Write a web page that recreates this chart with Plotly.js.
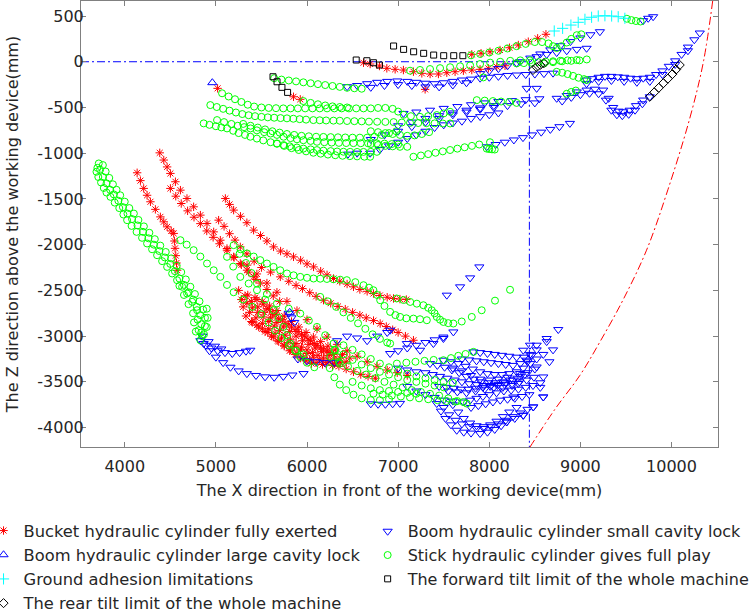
<!DOCTYPE html>
<html>
<head>
<meta charset="utf-8">
<script src="https://cdn.plot.ly/plotly-3.0.1.min.js"></script>
<style>html,body{margin:0;padding:0;background:#fff;}#chart{width:751px;height:612px;}</style>
</head>
<body>
<div id="chart"></div>
<script>
// ---------------- data (x mm, z mm) ----------------
const seriesNames = [
  'Bucket hydraulic cylinder fully exerted',
  'Boom hydraulic cylinder small cavity lock',
  'Boom hydraulic cylinder large cavity lock',
  'Stick hydraulic cylinder gives full play',
  'Ground adhesion limitations',
  'The forward tilt limit of the whole machine',
  'The rear tilt limit of the whole machine'
];

const xTickVals = [4000, 5000, 6000, 7000, 8000, 9000, 10000];
const xTickText = ['4000', '5000', '6000', '7000', '8000', '9000', '10000'];
const yTickVals = [-4000, -3500, -3000, -2500, -2000, -1500, -1000, -500, 0, 500];
const yTickText = ['-4000', '-3500', '-3000', '-2500', '-2000', '-1500', '-1000', '-500', '0', '500'];

// Bucket hydraulic cylinder fully exerted (red *)
const bucketPts = [
 [5019,-291],[5852,-383],[5926,-411],[7296,-302],
 [6620,-11],[6693,-25],[6795,-47],[6876,-72],[6967,-83],[7058,-91],[7168,-109],[7260,-127],[7351,-134],[7442,-134],[7534,-120],[7625,-109],[7716,-98],[7808,-91],[7899,-83],[7990,-72],[8082,-55],[8173,-44],
 [7808,81],[7910,92],[8008,109],[8118,128],[8222,153],[8319,183],[8428,219],[8531,256],[8622,300],
 [4136,-1214],[4172,-1300],[4208,-1385],[4245,-1460],[4282,-1531],[4336,-1614],[4391,-1696],[4428,-1750],[4465,-1805],[4510,-1850],[4537,-1877],[4545,-1960],[4552,-2040],[4560,-2120],[4568,-2200],[4575,-2280],
 [4384,-996],[4428,-1075],[4465,-1150],[4501,-1221],[4556,-1312],[4611,-1404],[4683,-1495],[4756,-1586],[4830,-1677],[4903,-1768],[4976,-1860],[5049,-1951],[5122,-2042],[5195,-2133],[5268,-2206],[5342,-2279],[5415,-2350],[5490,-2420],[5560,-2490],[5630,-2560],[5700,-2620],
 [4501,-1385],[4560,-1470],[4620,-1550],[4690,-1630],[4760,-1700],[4830,-1770],[4900,-1850],[4970,-1920],[5040,-1990],[5122,-2060],[5200,-2140],[5280,-2220],[5360,-2300],[5440,-2380],
 [5030,-1732],[5090,-1800],[5150,-1880],[5210,-1950],[5268,-2024],[5340,-2100],[5420,-2180],[5500,-2250],[5600,-2300],[5707,-2352],[5800,-2400],[5880,-2445],[5950,-2480],[6030,-2525],[6100,-2565],[6181,-2607],[6260,-2640],[6340,-2675],[6420,-2705],[6500,-2740],[6580,-2770],[6650,-2800],[6730,-2830],[6803,-2862],[6870,-2895],[6940,-2930],[7000,-2960],[7080,-3000],[7168,-3045],
 [5104,-1495],[5150,-1560],[5195,-1622],[5270,-1690],[5340,-1760],[5414,-1841],[5490,-1900],[5560,-1960],[5633,-2024],[5710,-2070],[5780,-2100],[5852,-2133],[5930,-2170],[6000,-2210],[6072,-2243],[6150,-2290],[6220,-2330],[6291,-2370],[6360,-2400],[6440,-2430],[6510,-2461],[6580,-2490],[6660,-2510],[6729,-2534],[6800,-2555],[6880,-2575],[6949,-2588],[7020,-2595],[7090,-2600],
 [5342,-2224],[5450,-2320],[5560,-2420],[5670,-2520],[5780,-2620],[5890,-2720],[6000,-2820],[6110,-2920],[6220,-3010],[6330,-3090],[6440,-3160],[6550,-3220],[6660,-3280],[6770,-3330],[6880,-3370],[6990,-3400],[7100,-3430],
 [5250,-2500],[5320,-2560],[5390,-2620],[5460,-2680],[5530,-2740],[5600,-2800],[5670,-2850],[5740,-2900],[5810,-2950],[5880,-3000],[5950,-3050],[6020,-3090],[6090,-3130],[6160,-3170],[6230,-3210],[6300,-3250],[6370,-3290],
 [5300,-2680],[5370,-2740],[5440,-2800],[5510,-2860],[5580,-2920],[5650,-2970],[5720,-3020],[5790,-3070],[5860,-3110],[5930,-3150],[6000,-3190],[6070,-3230],[6140,-3260],[6210,-3290],[6280,-3320],
 [5350,-2550],[5430,-2580],[5510,-2620],[5590,-2670],[5670,-2720],[5750,-2780],[5830,-2840],[5910,-2900],[5990,-2960],[6070,-3010],[6150,-3060],[6230,-3110],[6310,-3150],[6390,-3200],[6470,-3240],
 [5400,-2850],[5470,-2900],[5540,-2950],[5610,-3000],[5680,-3050],[5750,-3100],[5820,-3150],[5890,-3190],[5960,-3230],[6030,-3260],[6100,-3290],[6170,-3310],
 [5280,-2600],[5340,-2640],[5400,-2690],[5460,-2740],[5520,-2790],[5580,-2840],[5640,-2890],[5700,-2940],[5760,-2990],[5820,-3040],[5880,-3080],[5940,-3120],[6000,-3150],[6060,-3180],[6120,-3210],[6180,-3240],[6240,-3270],[6300,-3300],
 [5330,-2780],[5390,-2840],[5450,-2880],[5510,-2920],[5570,-2960],[5630,-3010],[5690,-3060],[5750,-3110],[5810,-3160],[5870,-3200],[5930,-3240],[5990,-3270],[6050,-3300],
 [5450,-2600],[5520,-2650],[5590,-2710],[5660,-2760],[5730,-2820],[5800,-2870],[5870,-2930],[5940,-2980],[6010,-3030],[6080,-3080],[6150,-3120],[6220,-3160],[6290,-3200],[6360,-3240],[6430,-3280],
 [5560,-2700],[5620,-2760],[5690,-2810],[5760,-2860],[5830,-2900],[5900,-2950],[5970,-3000],[6040,-3050],[6110,-3100],[6180,-3140],[6250,-3180],
 [6350,-3330],[6430,-3360],[6510,-3390],[6590,-3420],[6670,-3440],[6750,-3460]
];

// Boom hydraulic cylinder small cavity lock (blue down triangles)
const boomSmallPts = [
 [6440,-273],[6550,-260],[6660,-240],[6770,-225],[6880,-215],[6990,-210],[7100,-215],[7200,-225],[7300,-235],[7400,-240],[7500,-230],[7600,-215],[7700,-200],[7800,-190],[7900,-180],[8000,-170],[8100,-160],[8200,-150],[8300,-145],[8400,-140],[8500,-135],[8600,-130],[8700,-125],
 [6700,-280],[6850,-260],[7000,-250],[7150,-260],[7300,-275],[7450,-275],[7600,-255],[7750,-230],
 [9068,-200],[9130,-185],[9200,-170],[9270,-160],[9340,-160],[9410,-165],[9480,-170],[9550,-180],[9620,-185],[9690,-180],[9762,-170],[9830,-140],[9900,-100],[9970,-50],[10040,10],[10110,80],[10180,160],[10250,240],[10310,314],
 [9068,-240],[9200,-215],[9340,-205],[9480,-215],[9620,-225],[9762,-215],[9900,-140],[10040,-30],[10180,120],
 [8337,0],[8450,40],[8560,85],[8670,130],[8780,175],[8890,220],[9000,260],[9110,295],[9214,328],
 [8520,55],[8630,80],[8740,100],[8850,120],[8960,135],[9068,147],
 [7900,-130],[8000,-100],[8100,-75],[8200,-45],[8300,-15],
 [9689,449],[9744,475],[9798,492],
 [7059,-565],[7200,-550],[7350,-530],[7500,-510],[7650,-490],[7800,-470],[7950,-450],[8100,-435],[8250,-425],[8400,-415],[8550,-405],[8740,-400],[8850,-370],[8960,-330],[9068,-310],[9160,-300],[9250,-310],[9310,-400],[9360,-500],[9420,-540],[9470,-547],[9540,-530],[9610,-480],[9689,-419],[9762,-383],
 [8800,-430],[8900,-390],[9000,-360],[9100,-345],[9200,-350],[9280,-420],[9340,-530],[9400,-580],[9460,-590],[9530,-575],[9600,-530],[9680,-460],
 [8411,-291],[8520,-291],
 [6450,-1010],[6550,-1000],[6693,-1000],[6800,-960],[6900,-920],[7000,-880],[7100,-840],[7200,-800],[7300,-760],[7400,-720],[7500,-690],[7600,-670],
 [6700,-850],[6850,-800],[7000,-760],[7150,-710],[7300,-660],[7450,-620],[7600,-580],[7750,-550],[7900,-520],[8050,-500],[8200,-480],[8350,-460],[8500,-450],
 [7972,-930],[8070,-905],[8170,-880],[8270,-855],[8370,-830],[8470,-800],[8570,-770],[8670,-740],[8770,-710],[8885,-674],
 [7000,-700],[7150,-660],[7300,-620],[7450,-590],[7600,-560],[7750,-530],[7900,-505],[8050,-480],
 [7700,-650],[7800,-620],[7900,-600],[8000,-580],[8100,-560],
 [4830,-3050],[4890,-3100],[4950,-3130],[5020,-3160],[5100,-3180],[5180,-3190],[5260,-3180],[5330,-3165],[5378,-3154],[4850,-3000],[4920,-3060],[4990,-3110],[5060,-3140],
 [4866,-3081],[4930,-3160],[5000,-3230],[5080,-3290],[5160,-3340],[5250,-3380],[5340,-3410],[5440,-3430],[5540,-3445],[5640,-3450],[5740,-3440],[5840,-3425],[5962,-3409],
 [5800,-2750],[5830,-2800],[5860,-2850],[5900,-3250],[6000,-3270],[6100,-3280],[6200,-3290],[6300,-3290],[6330,-3050],[6440,-3000],[6550,-3020],[6660,-3050],[6770,-3000],[6880,-2960],
 [7534,-2552],[7680,-2461],[7790,-2363],[7891,-2243],
 [6912,-2935],[7096,-3081],[7241,-3154],[7387,-3081],[7497,-3026],
 [6912,-3190],[7000,-3160],[7100,-3130],[7200,-3100],[7300,-3070],[7400,-3040],[7497,-3010],[7606,-2954],
 [7826,-3172],[7900,-3180],[7980,-3190],[8060,-3200],[8140,-3210],[8220,-3220],[8300,-3230],[8380,-3230],[8447,-3200],[8520,-3150],[8630,-3060],[8757,-2928],
 [7497,-3263],[7580,-3280],[7660,-3300],[7740,-3330],[7820,-3360],[7900,-3390],[7980,-3410],[8060,-3420],[8140,-3420],[8220,-3410],[8300,-3390],[8373,-3350],[8450,-3300],[8520,-3250],[8593,-3200],
 [7300,-3400],[7380,-3420],[7460,-3440],[7540,-3460],[7620,-3480],[7700,-3500],[7780,-3520],[7860,-3530],[7940,-3540],[8020,-3540],[8100,-3530],[8180,-3510],[8260,-3480],[8340,-3440],[8420,-3400],[8500,-3360],
 [7716,-3720],[7790,-3700],[7860,-3680],[7930,-3660],[8000,-3640],[8080,-3620],[8160,-3600],[8240,-3590],[8320,-3580],[8400,-3560],[8480,-3540],[8560,-3510],
 [7424,-3737],[7470,-3820],[7520,-3900],[7580,-3970],[7643,-4029],[7720,-4050],[7800,-4060],[7899,-4065],[7980,-4050],[8060,-4020],[8130,-3980],[8191,-3938],[8280,-3900],[8373,-3865],[8483,-3774],[8593,-3665],
 [7600,-3750],[7660,-3830],[7720,-3900],[7790,-3950],[7860,-3980],[7940,-3990],[8010,-3970],[8080,-3930],[8150,-3880],[8220,-3830],[8300,-3780],
 [7100,-3550],[7200,-3600],[7300,-3640],[7400,-3670],[7500,-3700],[7600,-3710],
 [7000,-3350],[7100,-3370],[7200,-3390],
 [7600,-3350],[7700,-3380],[7800,-3430],[7900,-3470],[8000,-3480],[8100,-3470],[8200,-3450],
 [7550,-3600],[7650,-3610],[7750,-3620],[7850,-3600],[7950,-3580],[8050,-3560],[8150,-3560],[8250,-3540],
 [7350,-3300],[7430,-3320],[7510,-3340],[7590,-3370],[7670,-3400],[7750,-3440],[7830,-3470],[7910,-3500],[7990,-3510],[8070,-3510],[8150,-3500],[8230,-3480],[8310,-3460],[8390,-3420],
 [7450,-3550],[7530,-3560],[7610,-3570],[7690,-3580],[7770,-3580],[7850,-3570],[7930,-3560],[8010,-3550],[8090,-3540],[8170,-3530],[8250,-3520],[8330,-3500],[8410,-3480],[8490,-3450],
 [7500,-3780],[7560,-3860],[7630,-3920],[7700,-3960],[7780,-3990],[7860,-4010],[7940,-4010],[8020,-3990],[8100,-3960],[8180,-3920],[8260,-3880],[8340,-3840],[8420,-3800],
 [7700,-3250],[7780,-3260],[7860,-3270],[7940,-3280],[8020,-3290],[8100,-3300],[8180,-3310],[8260,-3320],[8340,-3300],[8420,-3280],
 [7800,-3780],[7880,-3760],[7960,-3740],[8040,-3720],[8120,-3700],[8200,-3690],[8280,-3680],[8360,-3660],[8440,-3640],
 [6700,-3740],[6780,-3745],[6860,-3745],[6940,-3740],[7020,-3735],
 [8520,-3099],[8447,-3099],[8630,-3026],[8373,-3154],[8411,-3263],[8520,-3337],[8593,-3446],[8593,-3665],[8483,-3774],[8373,-3865],[8191,-3938],[8319,-3518],[8264,-3665],[8337,-3409],[8465,-3209],[8660,-3280],[8700,-3150],[8560,-3560]
];

// Boom hydraulic cylinder large cavity lock (blue up triangles)
const boomLargePts = [[4961,-229],[5810,-2740]];

// Stick hydraulic cylinder gives full play (green circles)
const stickPts = [
 [7131,-98],[7240,-90],[7350,-80],[7460,-70],[7570,-60],[7680,-50],[7790,-40],[7899,-25],[8010,-10],[8120,0],[8230,10],[8340,15],[8447,15],
 [8600,-20],[8700,-5],[8800,5],[8900,10],[8990,15],[9070,25],
 [7800,70],[7900,85],[8000,100],[8100,120],[8200,145],[8300,170],[8400,195],[8500,215],[8580,215],[8650,200],[8700,170],[8740,150],[8790,170],[8850,210],[8900,250],[8960,290],[9010,300],
 [5640,-180],[5720,-195],[5800,-205],[5880,-215],[5960,-225],[6040,-235],[6120,-245],[6200,-255],[6280,-265],[6360,-275],[6440,-285],[6520,-290],[6600,-295],
 [5068,-345],[5140,-380],[5210,-410],[5280,-440],[5350,-470],[5420,-490],[5500,-500],[5580,-505],[5660,-508],[5740,-510],[5820,-510],[5900,-510],[5980,-510],[6060,-510],[6140,-510],[6220,-510],[6300,-510],[6380,-510],[6460,-510],[6540,-510],[6620,-510],[6700,-510],[6780,-505],
 [6860,-505],[6940,-515],[7000,-545],[7060,-580],[7140,-595],[7240,-602],[7330,-595],[7424,-583],[7500,-565],[7570,-547],
 [5960,-430],[6040,-450],[6120,-465],[6200,-478],[6280,-488],[6360,-495],[6440,-500],
 [4939,-474],[5010,-495],[5080,-515],[5150,-535],[5220,-555],[5290,-572],[5360,-585],[5430,-595],[5500,-603],[5570,-608],[5640,-612],[5710,-616],[5780,-619],[5850,-623],[5920,-628],[5990,-633],[6070,-638],[6140,-640],[6210,-642],[6290,-644],[6360,-645],[6440,-648],[6520,-650],[6600,-652],[6680,-655],[6770,-656],[6860,-658],[6950,-660],[7040,-665],[7130,-668],[7220,-670],[7310,-672],[7400,-674],[7490,-675],[7570,-675],
 [5013,-638],[5090,-660],[5170,-680],[5240,-700],[5310,-715],[5380,-729],[5450,-750],[5530,-770],[5600,-785],[5670,-800],[5743,-820],[5820,-835],[5890,-848],[5960,-858],[6040,-866],[6110,-875],[6190,-880],[6270,-884],[6350,-887],[6430,-889],[6510,-890],[6590,-891],[6670,-892],[6767,-893],[6850,-895],[6930,-900],[7000,-905],
 [4866,-674],[4930,-690],[5000,-705],[5060,-718],[5122,-729],[5190,-755],[5250,-780],[5320,-800],[5378,-820],[5450,-840],[5520,-860],[5600,-880],[5670,-897],[5743,-911],[5810,-925],[5890,-938],[5960,-950],[6040,-958],[6109,-966],[6180,-972],[6260,-977],[6330,-981],[6400,-984],[6474,-985],[6550,-986],[6620,-986],[6700,-985],[6767,-985],
 [5300,-680],[5380,-700],[5460,-720],[5540,-740],[5620,-760],[5700,-775],[5780,-790],[5860,-800],[5940,-810],[6020,-815],[6100,-820],[6180,-822],[6260,-824],[6340,-826],[6420,-828],[6500,-830],[6580,-830],[6660,-830],[6740,-820],[6820,-800],[6900,-780],[6980,-760],
 [5670,-893],[5750,-920],[5830,-945],[5910,-965],[5990,-980],[6070,-995],[6150,-1005],[6230,-1015],[6310,-1022],[6390,-1028],[6470,-1032],[6550,-1035],[6630,-1038],[6693,-1039],
 [6700,-760],[6780,-770],[6860,-780],[6940,-790],[7020,-800],[7100,-810],[7180,-805],[7260,-790],[7340,-770],
 [6700,-900],[6780,-910],[6860,-920],[6940,-925],[7020,-930],[7100,-930],
 [7168,-1039],[7250,-1025],[7330,-1010],[7410,-995],[7490,-980],[7570,-965],[7650,-950],[7730,-935],[7810,-920],[7890,-905],[8008,-880],
 [7972,-950],[8000,-955],[8030,-958],[8060,-960],
 [7863,-420],[7950,-425],[8040,-430],[8130,-435],[8220,-440],[8300,-450],
 [8740,-110],[8800,-120],[8860,-135],[8920,-155],[8980,-175],[9040,-190],[9068,-200],
 [8850,-350],[8900,-330],[8950,-315],[7935,-171],
 [8300,-18],[8380,-15],[8460,-10],[8540,-5],[8620,0],[8700,5],[8780,10],[8860,15],[8959,19],
 [9510,470],[9560,455],[9610,445],[9660,440],
 [3715,-1112],[3700,-1160],[3690,-1203],[3710,-1260],[3740,-1320],[3770,-1380],[3800,-1430],[3843,-1477],[3890,-1540],[3940,-1600],[3985,-1670],[4026,-1732],[4075,-1795],[4130,-1860],[4190,-1925],[4245,-1987],[4300,-2050],[4355,-2115],[4410,-2180],[4465,-2243],[4520,-2315],[4574,-2388],[4630,-2460],[4684,-2534],[4740,-2625],[4794,-2716],[4800,-2820],[4811,-2935],[4830,-3045],
 [3760,-1130],[3790,-1200],[3830,-1270],[3870,-1340],[3910,-1400],[3950,-1460],[4000,-1530],[4050,-1600],[4100,-1660],[4150,-1730],[4210,-1800],[4270,-1870],[4330,-1940],[4390,-2010],[4450,-2080],[4510,-2150],[4570,-2230],[4620,-2300],[4670,-2380],[4720,-2460],[4770,-2540],[4820,-2620],[4860,-2710],[4880,-2800],[4880,-2890],[4870,-2980],
 [3730,-1180],[3760,-1260],[3800,-1330],[3840,-1400],[3880,-1450],[3930,-1520],[3980,-1590],[4030,-1660],[4080,-1720],[4140,-1790],[4200,-1860],[4260,-1930],[4320,-2000],[4380,-2070],[4440,-2140],[4500,-2210],[4550,-2290],[4600,-2370],[4650,-2440],[4700,-2520],[4750,-2600],[4790,-2680],[4830,-2770],[4840,-2870],[4840,-2960],
 [4600,-2450],[4650,-2550],[4700,-2650],[4750,-2750],[4760,-2850],[4780,-2950],[4850,-3000],[4900,-2900],[4910,-2800],[4900,-2700],
 [4611,-1951],[4680,-2000],[4756,-2060],[4830,-2130],[4903,-2206],[4976,-2280],[5049,-2352],[5122,-2440],[5195,-2520],[5300,-2600],[5400,-2680],[5500,-2760],[5580,-2850],[5650,-2940],[5720,-3020],[5800,-3100],[5880,-3160],[5960,-3200],
 [5195,-2005],[5270,-2050],[5342,-2096],[5415,-2130],[5487,-2169],[5560,-2206],[5633,-2243],[5706,-2280],[5780,-2315],[5853,-2335],[5926,-2352],[6000,-2362],[6072,-2370],[6145,-2372],[6218,-2375],[6290,-2378],[6364,-2383],[6437,-2388],[6530,-2410],[6620,-2443],[6680,-2470],[6729,-2498],[6770,-2550],[6803,-2607],[6850,-2670],[6912,-2735],[6970,-2770],[7022,-2790],[7090,-2805],[7168,-2808],[7240,-2815],[7315,-2826],
 [6984,-2588],[7060,-2605],[7132,-2626],[7205,-2645],[7277,-2662],[7330,-2690],[7369,-2717],[7400,-2750],[7424,-2790],[7460,-2820],[7497,-2845],[7550,-2858],[7606,-2862],
 [7698,-2840],[7808,-2790],[7917,-2717],[8063,-2612],[8228,-2493],
 [5122,-2133],[5190,-2240],[5268,-2352],[5360,-2425],[5451,-2497],[5540,-2600],[5633,-2716],[5690,-2800],[5743,-2899],[5780,-2990],[5816,-3081],[5870,-3160],[5926,-3227],[6000,-3290],[6080,-3340],
 [5260,-2100],[5330,-2200],[5390,-2310],[5451,-2425],[5560,-2540],[5670,-2643],[5800,-2700],[5926,-2753],[6020,-2830],[6109,-2899],[6200,-2990],[6291,-3081],[6310,-3150],[6328,-3227],[6360,-3300],
 [6145,-2571],[6230,-2620],[6320,-2680],[6400,-2740],[6480,-2800],[6560,-2860],[6640,-2920],[6720,-2980],[6800,-3030],[6880,-3070],[6912,-3081],
 [6255,-3227],[6350,-3280],[6450,-3330],[6550,-3380],[6650,-3420],[6750,-3460],[6850,-3500],[6950,-3530],[7050,-3560],[7150,-3590],[7250,-3610],[7350,-3630],[7450,-3650],[7550,-3680],[7650,-3710],[7753,-3737],
 [6729,-3628],[6830,-3640],[6930,-3650],[7030,-3660],[7130,-3670],[7230,-3680],[7330,-3690],[7430,-3700],[7530,-3710],[7630,-3715],[7716,-3720],
 [6986,-3300],[7090,-3290],[7190,-3280],[7290,-3270],[7390,-3260],[7497,-3263],[7580,-3240],[7660,-3215],[7740,-3195],[7826,-3172],
 [6400,-3100],[6500,-3150],[6600,-3200],[6700,-3250],[6800,-3300],[6900,-3340],[7000,-3380],[7100,-3410],[7200,-3440],[7300,-3460],[7400,-3480],[7500,-3500],[7600,-3510],
 [6250,-3350],[6300,-3450],[6360,-3530],[6430,-3590],[6510,-3640],[6600,-3680],[6700,-3700],[6800,-3700],[6900,-3690],
 [6300,-3150],[6400,-3200],[6500,-3260],[6600,-3310],[6700,-3350],[6800,-3390],[6900,-3420],[7000,-3450],[7100,-3480],[7200,-3500],[7300,-3520],[7400,-3540],[7500,-3560],
 [6500,-3500],[6600,-3540],[6700,-3570],[6800,-3590],[6900,-3600],[7000,-3610],[7100,-3620],[7200,-3630]
];

// Ground adhesion limitations (cyan +)
const groundPts = [[8713,336],[8805,365],[8896,401],[8976,431],[9050,464],[9123,486],[9196,500],[9269,503],[9343,500],[9415,492],[9488,475]];

// The forward tilt limit of the whole machine (black squares)
const forwardPts = [[5627,-164],[5671,-219],[5725,-280],[5787,-335],[6540,19],[6657,11],[6729,-11],[6795,-36],
 [6950,172],[7060,135],[7170,109],[7280,92],[7390,73],[7500,66],[7610,66],[7710,66]];

// The rear tilt limit of the whole machine (black diamonds)
const rearPts = [[9762,-383],[9810,-335],[9860,-285],[9910,-235],[9960,-185],[10010,-135],[10050,-85],[10090,-36],
 [8480,-90],[8520,-60],[8560,-35],[8600,-15]];

// reference lines
const refHX = [3520, 8440], refHY = [0, 0];
const refVX = [8440, 8440], refVY = [0, -4212];
const limitX = [8447, 8720, 8995, 9214, 9470, 9726, 9960, 10201, 10350, 10453];
const limitY = [-4212, -3800, -3428, -3063, -2600, -2060, -1400, -616, 0, 675];

// ---------------- drawing ----------------
const xs = p => p.map(d => d[0]);
const ys = p => p.map(d => d[1]);
const dashDot = '8px,3px,2px,3px';
const FONT = '"DejaVu Sans", "Liberation Sans", Arial, sans-serif';

function pts(pArr, name, symbol, color, size, legend, rank) {
  return {
    type: 'scatter', mode: 'markers', x: xs(pArr), y: ys(pArr), name: name,
    legend: legend, legendrank: rank,
    marker: {symbol: symbol, color: color, size: size, line: {color: color, width: 1}},
    hoverinfo: 'skip', cliponaxis: true
  };
}

const traces = [
  {type:'scatter', mode:'lines', x: refHX, y: refHY, line:{color:'#0000ff', width:1, dash:dashDot}, showlegend:false, hoverinfo:'skip'},
  {type:'scatter', mode:'lines', x: refVX, y: refVY, line:{color:'#0000ff', width:1, dash:dashDot}, showlegend:false, hoverinfo:'skip'},
  {type:'scatter', mode:'lines', x: limitX, y: limitY, line:{color:'#ff0000', width:1, dash:dashDot, shape:'spline'}, showlegend:false, hoverinfo:'skip'},
  pts(bucketPts, seriesNames[0], 'asterisk-open', '#ff0000', 7, 'legend', 1),
  pts(boomSmallPts, seriesNames[1], 'triangle-down-open', '#0000ff', 8, 'legend2', 1),
  pts(stickPts, seriesNames[3], 'circle-open', '#00ff00', 7, 'legend2', 2),
  pts(boomLargePts, seriesNames[2], 'triangle-up-open', '#0000ff', 8, 'legend', 2),
  pts(groundPts, seriesNames[4], 'cross-thin-open', '#00ffff', 8, 'legend', 3),
  pts(forwardPts, seriesNames[5], 'square-open', '#000000', 6, 'legend2', 3),
  pts(rearPts, seriesNames[6], 'diamond-open', '#000000', 7, 'legend', 4)
];

const axisCommon = {
  showgrid: false, zeroline: false, showline: true, linecolor: '#808080', linewidth: 1,
  mirror: 'ticks', ticks: 'inside', ticklen: 5, tickcolor: '#808080', tickwidth: 1,
  tickfont: {family: FONT, size: 16, color: '#262626'}
};

const legendCommon = {
  orientation: 'v', xanchor: 'left', yanchor: 'top', bgcolor: 'rgba(0,0,0,0)',
  borderwidth: 0, tracegroupgap: 0, itemclick: false
};

const layout = {
  width: 751, height: 612,
  margin: {l: 81, r: 33, t: 1, b: 165, autoexpand: false},
  paper_bgcolor: '#ffffff', plot_bgcolor: '#ffffff',
  font: {family: FONT, size: 16, color: '#262626'},
  showlegend: true,
  xaxis: Object.assign({}, axisCommon, {
    range: [3520, 10510], tickvals: xTickVals, ticktext: xTickText, ticklabelstandoff: 5,
    title: {text: 'The X direction in front of the working device(mm)', font: {family: FONT, size: 16, color: '#262626'}, standoff: 9}
  }),
  yaxis: Object.assign({}, axisCommon, {
    range: [-4212, 664], tickvals: yTickVals, ticktext: yTickText, ticklabelstandoff: -7,
    title: {text: 'The Z direction above the working device(mm)', font: {family: FONT, size: 16, color: '#262626'}, standoff: 14}
  }),
  legend: Object.assign({}, legendCommon, {x: -0.153, y: -0.149, font: {family: FONT, size: 16.3, color: '#262626'}}),
  legend2: Object.assign({}, legendCommon, {x: 0.450, y: -0.151, font: {family: FONT, size: 16, color: '#262626'}})
};

Plotly.newPlot('chart', traces, layout, {staticPlot: true, displayModeBar: false});
</script>
</body>
</html>
